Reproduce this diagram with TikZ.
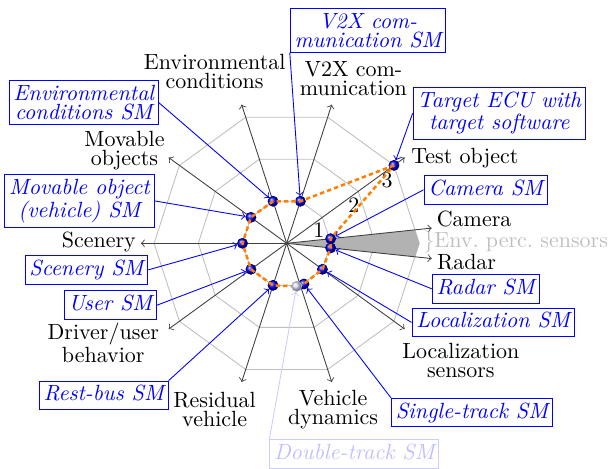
\documentclass[tikz,border=0pt]{standalone}
\usepackage{tikz}
\usetikzlibrary{arrows,shadings}

\begin{document}
\begin{tikzpicture}[x=0.706cm,y=0.706cm,
	font=\fontsize{10}{8.6}\selectfont,
	axis/.style={->,black!75,thin},
	ring/.style={gray!50,thin},
	lbl/.style={align=center},
	sm/.style={draw=blue,text=blue,thin,font=\fontsize{10}{8.6}\selectfont\itshape,
		inner ysep=2.1pt,inner xsep=2pt,text height=6.9pt,text depth=1.9pt},
	smtwo/.style={draw=blue,text=blue,thin,font=\fontsize{10}{8.6}\selectfont\itshape,
		inner ysep=2.1pt,inner xsep=2pt,align=center},
	smlink/.style={->,blue,thin},
	ball/.style={circle,inner sep=0pt,minimum size=4.6pt,draw=blue!40!black,
		line width=0.3pt,shading=ball,ball color=blue}]
\useasboundingbox (-6.486,-5.084) rectangle (7.405,5.505);

% grid, sensor wedge and axes
\coordinate (O) at (0,0);
\foreach \r in {1,2,3}
	\draw[ring] (0:\r) \foreach \a in {36,72,...,324} {-- (\a:\r)} -- cycle;
\fill[gray!60] (O) -- (6:2.917) -- (0:3) -- (-6:2.917) -- cycle;
\foreach \a/\n in {36/to,72/v2x,108/env,144/mov,180/scn,216/drv,252/res,288/vd,324/loc,6/cam,-6/rad}
	\draw[axis] (O) -- (\a:3.3) coordinate (ax-\n);

% axis labels
\node[lbl] (tolbl) at (4.03,1.92) {Test object};
\node[lbl] (v2xlbl) at (1.51,3.72) {V2X com-\\munication};
\node[lbl] (envlbl) at (-1.63,3.88) {Environmental\\conditions};
\node[lbl] (movlbl) at (-3.67,2.09) {Movable\\objects};
\node[lbl] (scnlbl) at (-4.25,0.03) {Scenery};
\node[lbl] (drvlbl) at (-4.15,-2.26) {Driver/user\\behavior};
\node[lbl] (reslbl) at (-1.63,-3.75) {Residual\\vehicle};
\node[lbl] (vdlbl) at (1.05,-3.77) {Vehicle\\dynamics};
\node[lbl] (loclbl) at (3.94,-2.66) {Localization\\sensors};
\node[lbl] (camlbl) at (4.24,0.545) {Camera};
\node[lbl] (radlbl) at (4.07,-0.42) {Radar};
\node[anchor=west,inner sep=0pt,text=gray!50] (epslbl) at (3.08,0.03) {\}Env.\ perc.\ sensors};

% scale values
\node (t1) at (0.73,0.30) {1};
\node (t2) at (1.52,0.87) {2};
\node (t3) at (2.27,1.43) {3};

% simulation models
\node[ball] (to) at (36:3) {};
\node[ball] (v2x) at (72:1) {};
\node[ball] (env) at (108:1) {};
\node[ball] (mov) at (144:1) {};
\node[ball] (scn) at (180:1) {};
\node[ball] (drv) at (216:1) {};
\node[ball] (res) at (252:1) {};
\coordinate (dblc) at (283:1);
\node[ball] (sgl) at (293:1) {};
\node[ball] (loc) at (324:1) {};
\node[ball] (rad) at (-6:1) {};
\node[ball] (cam) at (6:1) {};

\draw[orange,line width=1.15pt,dash pattern=on 2pt off 1.4pt] (to.center) -- (v2x.center) -- (env.center)
	-- (mov.center) -- (scn.center) -- (drv.center) -- (res.center) -- (dblc)
	-- (sgl.center) -- (loc.center) -- (rad.center) -- (cam.center) -- cycle;
\node[ball,ball color=blue!15,draw=gray!60] (dbl) at (dblc) {};

\node[smtwo] (envsm) at (-4.59,3.18) {Environmental\\conditions SM};
\node[smtwo] (v2xsm) at (1.84,4.82) {V2X com-\\munication SM};
\node[smtwo] (tosm) at (4.81,2.94) {Target ECU with\\target software};
\node[sm] (camsm) at (4.50,1.21) {Camera SM};
\node[smtwo] (movsm) at (-4.69,0.96) {Movable object\\(vehicle) SM};
\node[sm] (scnsm) at (-4.53,-0.60) {Scenery SM};
\node[sm] (usersm) at (-3.99,-1.40) {User SM};
\node[sm] (ressm) at (-4.14,-3.44) {Rest-bus SM};
\node[sm,draw=blue!20,text=blue!25] (dblsm) at (1.53,-4.77) {Double-track SM};
\node[sm] (sglsm) at (4.19,-3.83) {Single-track SM};
\node[sm] (locsm) at (4.67,-1.79) {Localization SM};
\node[sm] (radsm) at (4.50,-1.03) {Radar SM};

\draw[smlink] (envsm.east) -- (env);
\draw[smlink] (v2xsm.south west) -- (v2x);
\draw[smlink] (tosm.west) -- (to);
\draw[smlink] (camsm.west) -- (cam);
\draw[smlink] (movsm.east) -- (mov);
\draw[smlink] (scnsm.east) -- (scn);
\draw[smlink] (usersm.east) -- (drv);
\draw[smlink] (ressm.north east) -- (res);
\draw[smlink,blue!20] (dblsm.north west) -- (dbl);
\draw[smlink] (sglsm.north west) -- (sgl);
\draw[smlink] (locsm.west) -- (loc);
\draw[smlink] (radsm.west) -- (rad);
\end{tikzpicture}
\end{document}
